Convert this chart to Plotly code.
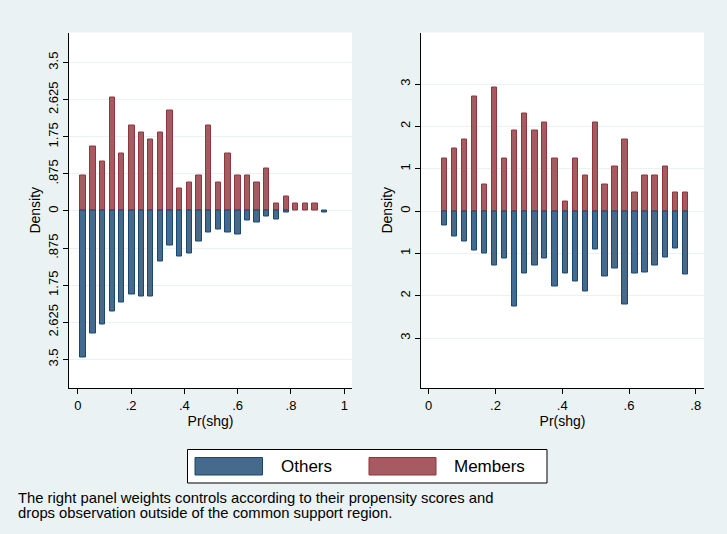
import plotly.graph_objects as go

# ---- data -------------------------------------------------------------
# Left panel: unweighted propensity-score histogram (bin centres)
left_bins = [0.020, 0.057, 0.092, 0.129, 0.165, 0.203, 0.238, 0.274, 0.310, 0.346,
             0.382, 0.418, 0.455, 0.491, 0.528, 0.564, 0.601, 0.636, 0.673, 0.709,
             0.746, 0.782, 0.818, 0.854, 0.890, 0.926]
left_members = [0.84, 1.52, 1.16, 2.68, 1.35, 2.01, 1.84, 1.68, 1.84, 2.36,
                0.52, 0.68, 0.84, 2.01, 0.68, 1.35, 0.84, 0.84, 0.68, 1.01,
                0.17, 0.35, 0.17, 0.17, 0.17, 0.0]
left_others = [3.45, 2.89, 2.67, 2.37, 2.15, 1.96, 2.02, 2.02, 1.18, 0.82,
               1.07, 1.01, 0.71, 0.50, 0.44, 0.50, 0.55, 0.22, 0.28, 0.14,
               0.20, 0.04, 0.0, 0.0, 0.0, 0.04]

# Right panel: weighted controls, common support only
right_bins = [0.047, 0.077, 0.107, 0.137, 0.167, 0.197, 0.228, 0.257, 0.287, 0.318,
              0.347, 0.378, 0.409, 0.439, 0.469, 0.499, 0.528, 0.558, 0.588, 0.618,
              0.648, 0.678, 0.709, 0.739, 0.769]
right_members = [1.25, 1.47, 1.69, 2.71, 0.63, 2.92, 1.25, 1.90, 2.30, 1.90,
                 2.09, 1.25, 0.22, 1.25, 0.84, 2.09, 0.63, 1.06, 1.69, 0.43,
                 0.84, 0.84, 1.06, 0.43, 0.43]
right_others = [0.33, 0.60, 0.71, 0.93, 1.01, 1.28, 1.12, 2.26, 1.47, 1.28,
                1.12, 1.77, 1.47, 1.66, 1.91, 0.90, 1.55, 1.36, 2.21, 1.47,
                1.44, 1.28, 1.09, 0.88, 1.50]

left_yticks = [0, 0.875, 1.75, 2.625, 3.5]
left_yticklabels = ["0", ".875", "1.75", "2.625", "3.5"]
right_yticks = [0, 1, 2, 3]
right_yticklabels = ["0", "1", "2", "3"]
left_xticks = [0, 0.2, 0.4, 0.6, 0.8, 1.0]
left_xticklabels = ["0", ".2", ".4", ".6", ".8", "1"]
right_xticks = [0, 0.2, 0.4, 0.6, 0.8]
right_xticklabels = ["0", ".2", ".4", ".6", ".8"]

series_names = ["Others", "Members"]
note_lines = ["The right panel weights controls according to their propensity scores and",
              "drops observation outside of the common support region."]

# ---- styling ----------------------------------------------------------
W, H = 727, 534
BG = "#eaf2f3"
BLUE_FILL, BLUE_LINE = "#466a8b", "#1a476f"
RED_FILL, RED_LINE = "#a65b62", "#90353b"
FONT = "Liberation Sans"


def px_x(p):
    return p / W


def px_y(p):
    return 1 - p / H


def nz(vals, sign=1):
    return [sign * v if v != 0 else None for v in vals]


fig = go.Figure()

panels = [
    ("x", "y", left_bins, left_members, left_others, 0.020),
    ("x2", "y2", right_bins, right_members, right_others, 0.016),
]
for xa, ya, bins, mem, oth, bw in panels:
    fig.add_trace(go.Bar(x=bins, y=nz(mem), width=bw, xaxis=xa, yaxis=ya,
                         marker=dict(color=RED_FILL, line=dict(color=RED_LINE, width=1)),
                         name=series_names[1], showlegend=False))
    fig.add_trace(go.Bar(x=bins, y=nz(oth, -1), width=bw, xaxis=xa, yaxis=ya,
                         marker=dict(color=BLUE_FILL, line=dict(color=BLUE_LINE, width=1)),
                         name=series_names[0], showlegend=False))


def mirrored(vals, labels):
    tv, tt = [], []
    for v, l in zip(vals, labels):
        if v == 0:
            tv.append(0.0); tt.append(l)
        else:
            tv += [v, -v]; tt += [l, l]
    return tv, tt


lyv, lyt = mirrored(left_yticks, left_yticklabels)
ryv, ryt = mirrored(right_yticks, right_yticklabels)

ydom = [px_y(388), px_y(32.5)]
axis_common = dict(showline=True, linecolor="black", linewidth=1.3, ticks="outside",
                   ticklen=5, tickcolor="black", tickfont=dict(family=FONT, size=13, color="black"),
                   zeroline=False)
title_font = dict(family=FONT, size=14)

fig.update_layout(
    width=W, height=H, margin=dict(l=0, r=0, t=0, b=0),
    paper_bgcolor=BG, plot_bgcolor="white", barmode="overlay", bargap=0,
    font=dict(family=FONT, color="black"),
    xaxis=dict(domain=[px_x(69), px_x(352)], range=[-0.033, 1.029], anchor="y",
               tickvals=left_xticks, ticktext=left_xticklabels, showgrid=False,
               title=dict(text="Pr(shg)", font=title_font, standoff=0),
               **axis_common),
    yaxis=dict(domain=ydom, range=[-4.175, 4.21], anchor="x",
               tickvals=lyv, ticktext=lyt, tickangle=-90, showgrid=True, gridcolor=BG, gridwidth=1.3,
               title=dict(text="Density", font=title_font, standoff=1),
               **axis_common),
    xaxis2=dict(domain=[px_x(421), px_x(704)], range=[-0.023, 0.8246], anchor="y2",
                tickvals=right_xticks, ticktext=right_xticklabels, showgrid=False,
                title=dict(text="Pr(shg)", font=title_font, standoff=0),
                **axis_common),
    yaxis2=dict(domain=ydom, range=[-4.18, 4.22], anchor="x2",
                tickvals=ryv, ticktext=ryt, tickangle=-90, showgrid=True, gridcolor=BG, gridwidth=1.3,
                title=dict(text="Density", font=title_font, standoff=1),
                **axis_common),
)

# legend box drawn in paper coordinates
shapes = [
    dict(type="rect", xref="paper", yref="paper", x0=px_x(187.5), x1=px_x(547),
         y0=px_y(483), y1=px_y(449.5), line=dict(color="black", width=1), fillcolor="white"),
    dict(type="rect", xref="paper", yref="paper", x0=px_x(195), x1=px_x(262.5),
         y0=px_y(475), y1=px_y(457.5), line=dict(color=BLUE_LINE, width=1), fillcolor=BLUE_FILL),
    dict(type="rect", xref="paper", yref="paper", x0=px_x(369), x1=px_x(436),
         y0=px_y(475), y1=px_y(457.5), line=dict(color=RED_LINE, width=1), fillcolor=RED_FILL),
]
fig.update_layout(shapes=shapes)

annotations = [
    dict(text=series_names[0], x=px_x(279), y=px_y(466), xref="paper", yref="paper",
         xanchor="left", yanchor="middle", showarrow=False, font=dict(family=FONT, size=17)),
    dict(text=series_names[1], x=px_x(452), y=px_y(466), xref="paper", yref="paper",
         xanchor="left", yanchor="middle", showarrow=False, font=dict(family=FONT, size=17)),
]
for i, line in enumerate(note_lines):
    annotations.append(dict(text=line, x=px_x(16), y=px_y(498 + 15 * i), xref="paper",
                            yref="paper", xanchor="left", yanchor="middle", align="left",
                            showarrow=False, font=dict(family=FONT, size=14.8)))
fig.update_layout(annotations=annotations)

fig.write_html("out.html")
